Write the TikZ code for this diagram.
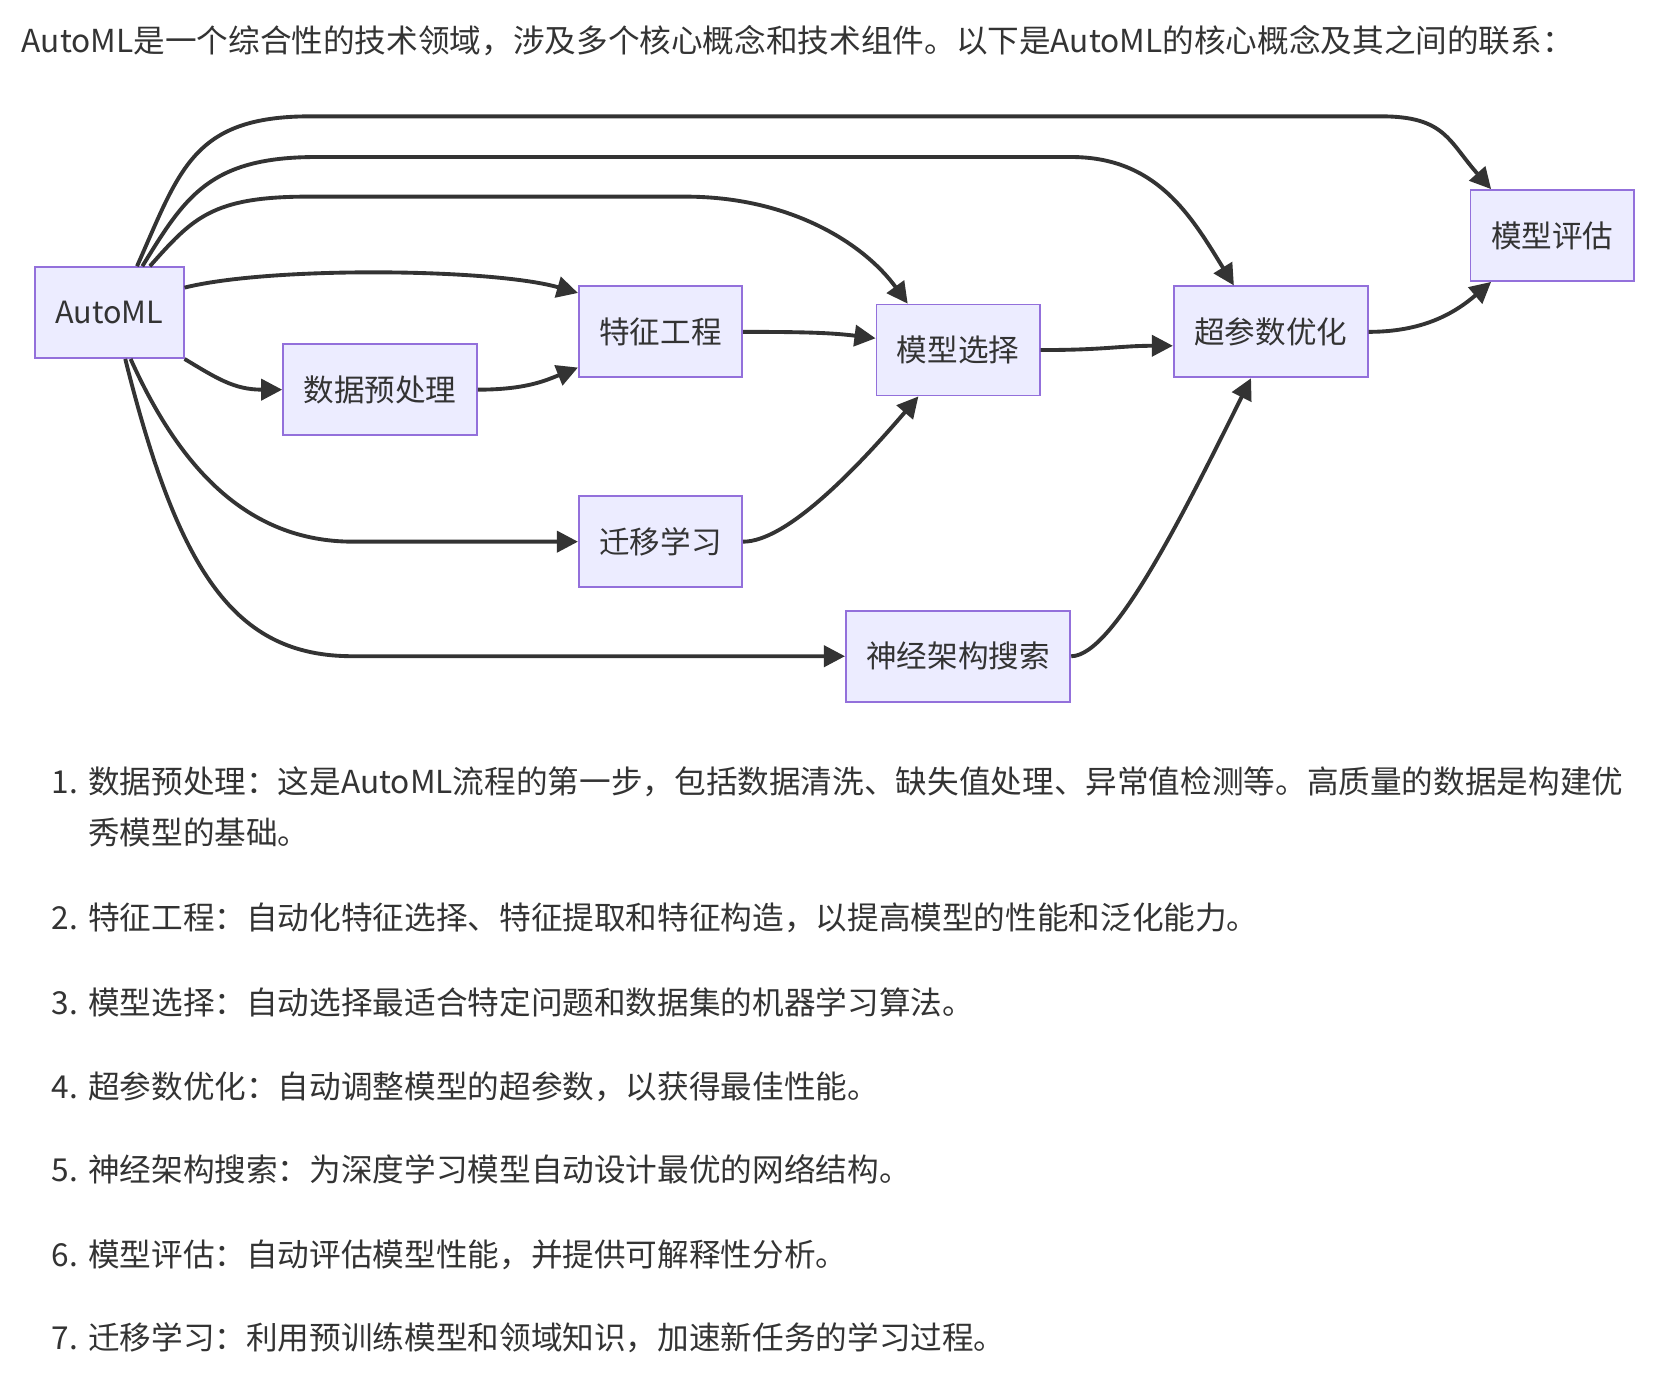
\documentclass[tikz,border=0pt]{standalone}
\usepackage{fontspec}
\setmainfont{Noto Sans CJK SC}
\usetikzlibrary{calc,arrows.meta}
\definecolor{lavande}{HTML}{ECECFF}
\definecolor{bordure}{HTML}{9370DB}
\definecolor{encre}{HTML}{333333}
\tikzstyle{boite} = [rectangle, draw=bordure, fill=lavande, line width=1pt, minimum height=1.82cm, inner xsep=0.41cm, text=encre, font=\fontsize{17.4}{21}\selectfont]
\tikzstyle{fleche} = [draw=encre, line width=2.2pt, -{Triangle[length=12pt,width=12pt]}]
\tikzstyle{texte} = [anchor=base west, inner sep=0pt, text=encre, font=\fontsize{18}{22}\selectfont]

\begin{document}
\begin{tikzpicture}[x=0.02141cm, y=-0.02141cm]

        \useasboundingbox (0,0) rectangle (1560,1298.5);

        %% titre
        \node (titre) [texte] at (20,49) {AutoML是一个综合性的技术领域，涉及多个核心概念和技术组件。以下是AutoML的核心概念及其之间的联系：};

        %% boites
        \node (E0) [boite] at (102,292) {AutoML};
        \node (E1) [boite] at (355,364) {数据预处理};
        \node (E2) [boite] at (617,310) {特征工程};
        \node (E3) [boite] at (895,327) {模型选择};
        \node (E4) [boite] at (1187,310) {超参数优化};
        \node (E5) [boite] at (895,613) {神经架构搜索};
        \node (E6) [boite] at (1450,220) {模型评估};
        \node (E7) [boite] at (617,506) {迁移学习};

        %% fleches courtes
        \draw[fleche] (E0.south east) .. controls +(30,18) and +(-45,0) .. (E1.west);
        \draw[fleche] ($(E0.north east)+(0,20)$) .. controls +(80,-20) and +(-80,-23) .. ($(E2.north west)+(0,7)$);
        \draw[fleche] (E1.east) .. controls +(45,0) and +(-30,12) .. ($(E2.south west)+(0,-10)$);
        \draw[fleche] (E2.east) .. controls +(60,0) and +(-40,-5) .. ($(E3.west)+(0,-11)$);
        \draw[fleche] (E3.east) .. controls +(60,0) and +(-50,0) .. ($(E4.west)+(0,13)$);
        \draw[fleche] (E4.east) .. controls +(50,0) and +(-35,30) .. ($(E6.south west)+(20,0)$);
        \draw[fleche] (E7.east) .. controls +(40,0) and +(-60,70) .. ($(E3.south west)+(40,0)$);
        \draw[fleche] (E5.east) .. controls +(40,0) and +(-60,120) .. ($(E4.south west)+(73,0)$);

        %% fleches longues (haut)
        \draw[fleche] ($(E0.north)+(38,0)$) .. controls +(40,-45) and +(-90,0) .. ($(E3.north west)+(-530,-100)$)
            -- ($(E3.north west)+(-178,-100)$) .. controls +(100,0) and +(-40,-55) .. ($(E3.north west)+(30,0)$);
        \draw[fleche] ($(E0.north)+(31,0)$) .. controls +(40,-65) and +(-100,0) .. ($(E4.north west)+(-800,-120)$)
            -- ($(E4.north west)+(-95,-120)$) .. controls +(80,0) and +(-40,-65) .. ($(E4.north west)+(57,0)$);
        \draw[fleche] ($(E0.north)+(26,0)$) .. controls +(40,-90) and +(-110,0) .. ($(E6.north west)+(-1083,-68)$)
            -- ($(E6.north west)+(-83,-68)$) .. controls +(60,0) and +(-40,-45) .. ($(E6.north west)+(20,0)$);

        %% fleches longues (bas)
        \draw[fleche] ($(E0.south)+(20,0)$) .. controls +(45,100) and +(-100,0) .. ($(E7.west)+(-210,0)$) -- (E7.west);
        \draw[fleche] ($(E0.south)+(15,0)$) .. controls +(50,200) and +(-110,0) .. ($(E5.west)+(-460,0)$) -- (E5.west);

        %% liste
        \node (n1) [texte] at (48,741) {1.};
        \node (l1) [texte] at (82,741) {数据预处理：这是AutoML流程的第一步，包括数据清洗、缺失值处理、异常值检测等。高质量的数据是构建优};
        \node (l1b) [texte] at (82,789) {秀模型的基础。};
        \node (n2) [texte] at (48,868) {2.};
        \node (l2) [texte] at (82,868) {特征工程：自动化特征选择、特征提取和特征构造，以提高模型的性能和泛化能力。};
        \node (n3) [texte] at (48,948) {3.};
        \node (l3) [texte] at (82,948) {模型选择：自动选择最适合特定问题和数据集的机器学习算法。};
        \node (n4) [texte] at (48,1026) {4.};
        \node (l4) [texte] at (82,1026) {超参数优化：自动调整模型的超参数，以获得最佳性能。};
        \node (n5) [texte] at (48,1104) {5.};
        \node (l5) [texte] at (82,1104) {神经架构搜索：为深度学习模型自动设计最优的网络结构。};
        \node (n6) [texte] at (48,1183) {6.};
        \node (l6) [texte] at (82,1183) {模型评估：自动评估模型性能，并提供可解释性分析。};
        \node (n7) [texte] at (48,1261) {7.};
        \node (l7) [texte] at (82,1261) {迁移学习：利用预训练模型和领域知识，加速新任务的学习过程。};

\end{tikzpicture}
\end{document}
